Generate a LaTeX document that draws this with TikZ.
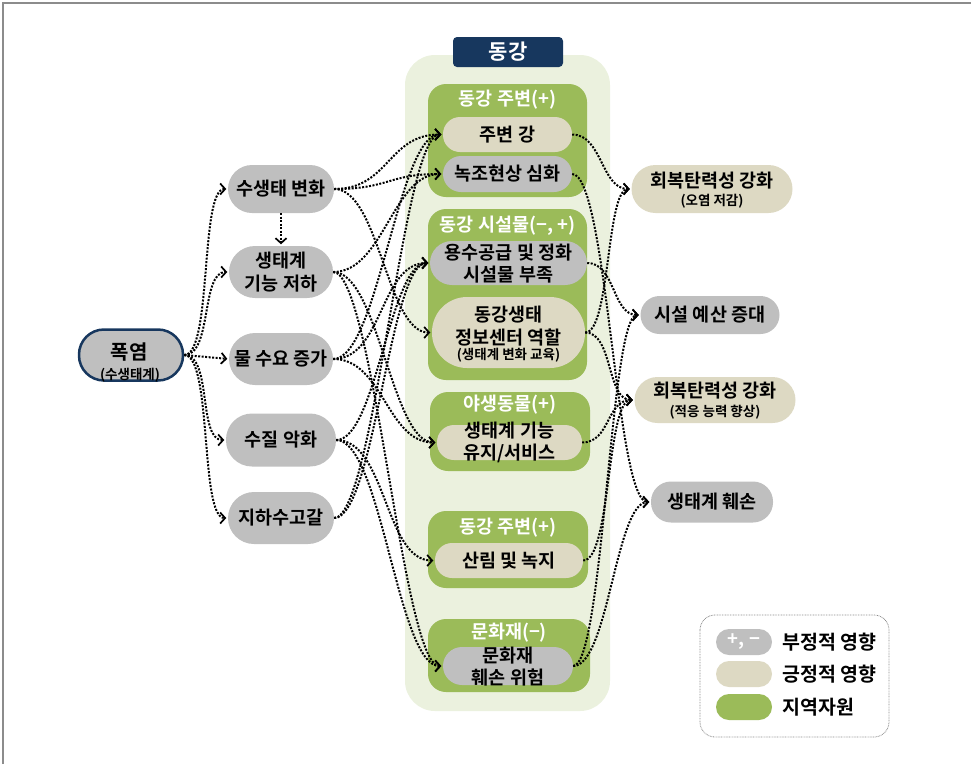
\documentclass[tikz,border=0pt]{standalone}
\usepackage{fontspec}
\setmainfont{Noto Sans CJK KR}[BoldFont={Noto Sans CJK KR Bold}]
\usetikzlibrary{arrows.meta}
\definecolor{cgray}{HTML}{BFBFBF}
\definecolor{cbeige}{HTML}{DDD9C3}
\definecolor{cgreen}{HTML}{9BBB59}
\definecolor{cbg}{HTML}{EBF1DE}
\definecolor{cnavy}{HTML}{17375E}
\definecolor{cframe}{HTML}{8C8C8C}
\newcommand\pill[7]{\node[fill=#6, rounded corners=#7pt, minimum width=#4pt, minimum height=#5pt] (#1) at (#2,#3) {};}
\newcommand\smalltxt{\fontsize{13.5}{15}\selectfont}
\begin{document}
\begin{tikzpicture}[x=1pt,y=-1pt,
  every node/.style={font=\bfseries\fontsize{18.5}{22.5}\selectfont, inner sep=0pt, align=center},
  gtitle/.style={text=white},
  hc/.style={to path={.. controls +(#1,0) and +(-#1,0) .. (\tikztotarget) \tikztonodes}},
  hc/.default=50,
  conn/.style={line width=2pt, dash pattern=on 2pt off 1.5pt,
    -{Straight Barb[length=5pt,width=11pt,line width=1.7pt]}, shorten >=1.5pt},
]
\useasboundingbox (0,0) rectangle (971,764);
% frame
\draw[cframe, line width=1.5pt] (3,764) -- (3,3) -- (971,3);

% central background
\fill[cbg, rounded corners=30pt] (405,55) rectangle (610,711);
\node[fill=cnavy, rounded corners=4pt, minimum width=110pt, minimum height=30pt, text=white,
  font=\bfseries\fontsize{21}{23}\selectfont] (title) at (508,52) {동강};

% groups
\fill[cgreen, rounded corners=18pt] (428,84) rectangle (587,197);
\node[gtitle] (g1t) at (507.5,100) {동강 주변(+)};
\fill[cgreen, rounded corners=18pt] (428,209) rectangle (587,380);
\node[gtitle] (g2t) at (507.5,226) {동강 시설물(−, +)};
\fill[cgreen, rounded corners=18pt] (430,392) rectangle (590,471);
\node[gtitle] (g3t) at (510,405) {야생동물(+)};
\fill[cgreen, rounded corners=18pt] (428,511) rectangle (588,588);
\node[gtitle] (g4t) at (508,528) {동강 주변(+)};
\fill[cgreen, rounded corners=18pt] (428,619) rectangle (590,692);
\node[gtitle] (g5t) at (509,633) {문화재(−)};

% inner nodes
\pill{c1}{507.5}{134.5}{129}{35}{cbeige}{17}
\node (c1t) at (c1) {주변 강};
\pill{c2}{507.5}{174}{129}{36}{cgray}{18}
\node (c2t) at (c2) {녹조현상 심화};
\pill{c3}{508.5}{263}{157}{44}{cgray}{22}
\node (c3t) at (508.5,263.5) {용수공급 및 정화\\시설물 부족};
\pill{c4}{508.5}{332.5}{153}{71}{cbeige}{35}
\node (c4t) at (508.5,326) {동강생태\\정보센터 역할};
\node[font=\bfseries\smalltxt] (c4s) at (508.5,355) {(생태계 변화 교육)};
\pill{c5}{509.5}{442.5}{145}{35}{cbeige}{17}
\node (c5t) at (509.5,442.5) {생태계 기능\\유지/서비스};
\pill{c6}{509}{560.5}{148}{35}{cbeige}{17}
\node (c6t) at (c6) {산림 및 녹지};
\pill{c7}{508}{666}{130}{38}{cgray}{19}
\node (c7t) at (508,666.5) {문화재\\훼손 위험};

% left nodes
\node[fill=cgray, draw=cnavy, line width=2.5pt, rounded corners=25pt, minimum width=104pt, minimum height=51pt] (pok) at (131,355) {};
\node[font=\bfseries\fontsize{20}{22}\selectfont] (pokt) at (129,352) {폭염};
\node[font=\bfseries\smalltxt] (poks) at (130,375) {(수생태계)};
\pill{ls1}{281}{189}{106}{48}{cgray}{24}
\node (ls1t) at (ls1) {수생태 변화};
\pill{ls2}{281}{272}{104}{52}{cgray}{26}
\node (ls2t) at (ls2) {생태계\\기능 저하};
\pill{ls3}{281}{359}{104}{52}{cgray}{26}
\node (ls3t) at (ls3) {물 수요 증가};
\pill{ls4}{281}{440}{110}{53}{cgray}{26}
\node (ls4t) at (ls4) {수질 악화};
\pill{ls5}{281}{518}{106}{52}{cgray}{26}
\node (ls5t) at (ls5) {지하수고갈};

% right nodes
\pill{r1}{712}{189}{161}{48}{cbeige}{24}
\node (r1t) at (712,181) {회복탄력성 강화};
\node[font=\bfseries\smalltxt] (r1s) at (712,201) {(오염 저감)};
\pill{r2}{710}{315}{139}{38}{cgray}{19}
\node (r2t) at (r2) {시설 예산 증대};
\pill{r3}{715}{400}{161}{46}{cbeige}{23}
\node (r3t) at (715,391) {회복탄력성 강화};
\node[font=\bfseries\smalltxt] (r3s) at (715,412) {(적응 능력 향상)};
\pill{r4}{712}{502}{122}{41}{cgray}{20}
\node (r4t) at (r4) {생태계 훼손};

% legend
\draw[cframe, line width=0.8pt, dash pattern=on 0.8pt off 0.8pt, rounded corners=15pt] (700,615) rectangle (889,737);
\pill{lg1}{744}{642}{56}{26}{cgray}{13}
\node[text=white] (lg1t) at (lg1) {+, −};
\node[anchor=west, font=\bfseries\fontsize{19.5}{21}\selectfont] (lt1) at (782,642) {부정적 영향};
\pill{lg2}{744}{674}{56}{26}{cbeige}{13}
\node[anchor=west, font=\bfseries\fontsize{19.5}{21}\selectfont] (lt2) at (782,674) {긍정적 영향};
\pill{lg3}{744}{707}{56}{26}{cgreen}{13}
\node[anchor=west, font=\bfseries\fontsize{19.5}{21}\selectfont] (lt3) at (782,707) {지역자원};

% connectors from 폭염
\draw[conn] (pok.east) to[hc=28] (ls1.west);
\draw[conn] (pok.east) to[hc=28] (ls2.west);
\draw[conn] (pok.east) -- (ls3.west);
\draw[conn] (pok.east) to[hc=28] (ls4.west);
\draw[conn] (pok.east) to[hc=28] (ls5.west);
\draw[conn] (ls1.south) -- (ls2.north);

% left -> center
\draw[conn] (ls1.east) to[hc=55] (c1.west);
\draw[conn] (ls1.east) to[hc=55] (c2.west);
\draw[conn] (ls1.east) to[hc=45] (c4.west);
\draw[conn] (ls2.east) to[hc=50] (c2.west);
\draw[conn] (ls2.east) to[hc=45] (c5.west);
\draw[conn] (ls2.east) to[hc=40] (c7.west);
\draw[conn] (ls3.east) to[hc=45] (c1.west);
\draw[conn] (ls3.east) to[hc=50] (c3.west);
\draw[conn] (ls3.east) to[hc=50] (c5.west);
\draw[conn] (ls4.east) to[hc=50] (c6.west);
\draw[conn] (ls4.east) to[hc=45] (c7.west);
\draw[conn] (ls4.east) to[hc=40] (c3.west);
\draw[conn] (ls5.east) to[hc=40] (c1.west);
\draw[conn] (ls5.east) to[hc=40] (c3.west);

% center -> right
\draw[conn] (c1.east) to[hc=30] (r1.west);
\draw[conn] (c4.east) to[hc=25] (r1.west);
\draw[conn] (c2.east) to[hc=35] (r4.west);
\draw[conn] (c3.east) to[hc=28] (r2.west);
\draw[conn] (c7.east) to[hc=30] (r2.west);
\draw[conn] (c4.east) to[hc=28] (r3.west);
\draw[conn] (c5.east) to[hc=28] (r3.west);
\draw[conn] (c6.east) to[hc=28] (r3.west);
\draw[conn] (c7.east) to[hc=35] (r4.west);
\end{tikzpicture}
\end{document}
